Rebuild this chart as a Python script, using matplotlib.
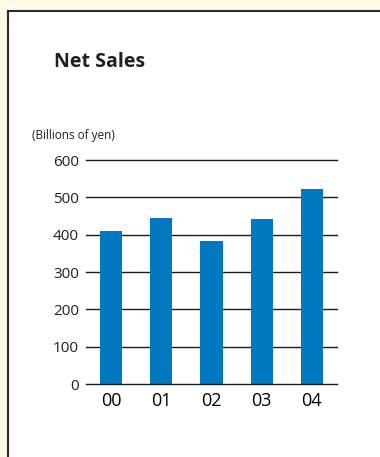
import matplotlib
matplotlib.use("Agg")
import matplotlib.pyplot as plt
from matplotlib.patches import Rectangle

years = ["00", "01", "02", "03", "04"]
net_sales = [410, 445, 383, 442, 522]
yticks = [0, 100, 200, 300, 400, 500, 600]

plt.rcParams['font.family'] = ['Open Sans', 'DejaVu Sans']
W, H = 380, 457
fig = plt.figure(figsize=(W / 100, H / 100), dpi=100)
fig.patch.set_facecolor('#FFF9E6')

# background axes holding the white panel with dark border
bg = fig.add_axes([0, 0, 1, 1], zorder=-1)
bg.set_xlim(0, W)
bg.set_ylim(H, 0)
bg.axis('off')
bg.add_patch(Rectangle((8, 11), W, H, facecolor='white', edgecolor='#2b2b2b',
                       linewidth=1.5))

ax = fig.add_axes([86 / W, 1 - 384 / H, 251 / W, 224 / H], zorder=1)
ax.set_facecolor('none')
x = list(range(len(years)))
ax.bar(x, net_sales, width=0.44, color='#0079C1', zorder=3)
ax.set_xlim(-0.5, 4.5)
ax.set_ylim(0, 600)
ax.set_yticks(yticks)
ax.set_yticklabels([str(t) for t in yticks], fontsize=11, color='#231F20')
ax.set_xticks(x)
ax.set_xticklabels(years, fontsize=13, color='#000000')
ax.tick_params(axis='both', length=0)
ax.tick_params(axis='y', pad=5)
ax.tick_params(axis='x', pad=6)
for s in ax.spines.values():
    s.set_visible(False)
for t in yticks:
    ax.axhline(t, color='#1a1a1a', linewidth=1.0, zorder=4 if t == 0 else 1,
               clip_on=False)

fig.text(54 / W, 1 - 62 / H, "Net Sales", fontsize=14, fontweight='bold',
         color='#231F20', va='center', ha='left')
fig.text(32 / W, 1 - 136 / H, "(Billions of yen)", fontsize=8.5,
         color='#231F20', va='center', ha='left')

fig.savefig("out.png", dpi=100, facecolor=fig.get_facecolor())
